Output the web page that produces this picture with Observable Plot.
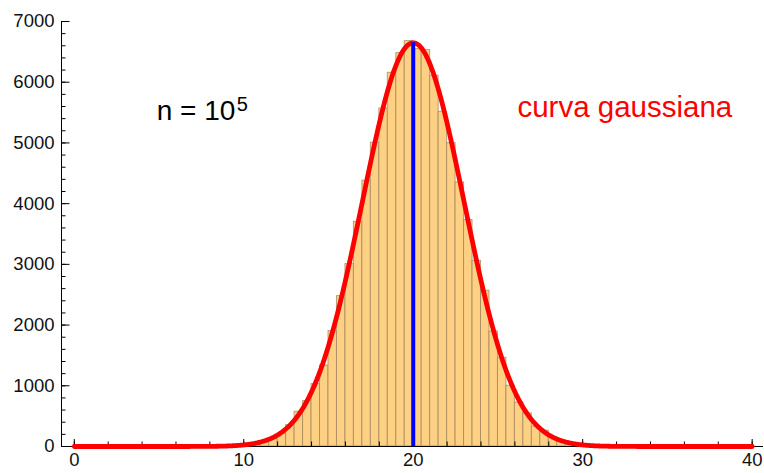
<!DOCTYPE html>
<html>
<head>
<meta charset="utf-8">
<script src="https://cdn.jsdelivr.net/npm/d3@7"></script>
<script src="https://cdn.jsdelivr.net/npm/@observablehq/plot@0.6"></script>
<style>
  body { margin: 0; background: #fff; }
</style>
</head>
<body>
<div id="chart"></div>
<script>
// Histogram of 10^5 samples, bins of width 0.5
const binStart = [
  9, 9.5, 10, 10.5, 11, 11.5, 12, 12.5, 13, 13.5, 14, 14.5, 15, 15.5, 16, 16.5,
  17, 17.5, 18, 18.5, 19, 19.5, 20, 20.5, 21, 21.5, 22, 22.5, 23, 23.5, 24, 24.5,
  25, 25.5, 26, 26.5, 27, 27.5, 28, 28.5, 29, 29.5, 30, 30.5, 31
];
const counts = [
  5, 12, 25, 45, 70, 125, 214, 352, 572, 748, 1028, 1334, 1901, 2477, 3004, 3701,
  4377, 5003, 5568, 6155, 6480, 6677, 6545, 6529, 6106, 5513, 4997, 4349, 3729, 3059, 2565, 1895,
  1461, 1000, 725, 544, 329, 259, 150, 95, 60, 35, 20, 10, 5
];
const binWidth = 0.5;

// Gaussian parameters of the fitted curve
const mean = 20;
const sd = 3;
const sampleSize = 1e5;

// Axis ticks
const xMajor = [0, 10, 20, 30, 40];
const yMajor = [0, 1000, 2000, 3000, 4000, 5000, 6000, 7000];
const xMinor = d3.range(0, 41, 2);
const yMinor = d3.range(0, 7001, 200);

const bins = binStart.map((x0, i) => ({x1: x0, x2: x0 + binWidth, count: counts[i]}));
const peak = sampleSize * binWidth / (sd * Math.sqrt(2 * Math.PI));
const gauss = x => peak * Math.exp(-((x - mean) ** 2) / (2 * sd * sd));
const curve = d3.range(0, 40.0001, 0.05).map(x => ({x, y: gauss(x)}));

const font = "'Liberation Sans', Arial, sans-serif";

const chart = Plot.plot({
  width: 764,
  height: 473,
  marginLeft: 61,
  marginRight: 2,
  marginTop: 21,
  marginBottom: 27,
  style: {fontFamily: font, fontSize: "18px", color: "#111", background: "#fff", overflow: "visible"},
  x: {domain: [-0.755, 40.61], label: null},
  y: {domain: [0, 7000], label: null},
  marks: [
    Plot.rectY(bins, {
      x1: "x1", x2: "x2", y: "count",
      fill: "#fed084", stroke: "#9a8058", strokeOpacity: 0.7, strokeWidth: 1
    }),
    Plot.frame({anchor: "left", stroke: "#000"}),
    Plot.frame({anchor: "bottom", stroke: "#000"}),
    Plot.axisY({ticks: yMinor, tickSize: -4.5, tickFormat: () => "", stroke: "#000"}),
    Plot.axisY({ticks: yMajor, tickSize: -8.5, tickPadding: 15.5, tickFormat: d => String(d), stroke: "#000", fill: "#111", fontSize: 18.5}),
    Plot.axisX({ticks: xMinor, tickSize: -4.5, tickFormat: () => "", stroke: "#000"}),
    Plot.axisX({ticks: xMajor, tickSize: -7, tickPadding: 13, tickFormat: d => String(d), stroke: "#000", fill: "#111", fontSize: 18.5}),
    Plot.line(curve, {x: "x", y: "y", stroke: "#ff0000", strokeWidth: 4.8}),
    Plot.ruleX([mean], {y1: 0, y2: peak, stroke: "#0000ff", strokeWidth: 4}),
    Plot.text(["n = 10"], {x: 9.5, y: 5376, text: d => d, textAnchor: "end", lineAnchor: "bottom", fontSize: 28, fill: "#000"}),
    Plot.text(["5"], {x: 9.5, y: 5518, dx: 1.5, text: d => d, textAnchor: "start", lineAnchor: "bottom", fontSize: 20, fill: "#000"}),
    Plot.text(["curva gaussiana"], {x: 26.15, y: 5431, text: d => d, textAnchor: "start", lineAnchor: "bottom", fontSize: 29.5, fill: "#ff0000"})
  ]
});

document.getElementById("chart").appendChild(chart);
</script>
</body>
</html>
